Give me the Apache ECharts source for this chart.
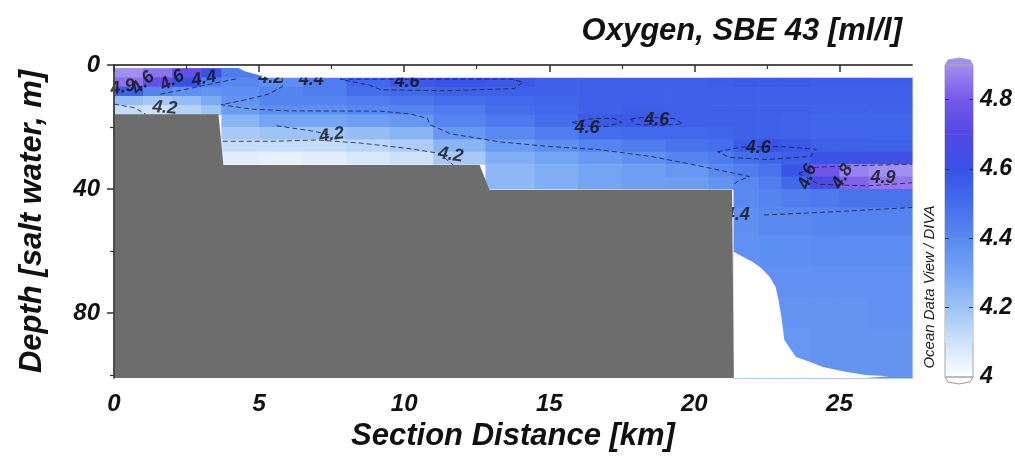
<!DOCTYPE html>
<html>
<head>
<meta charset="utf-8">
<script src="https://cdn.jsdelivr.net/npm/echarts@6/dist/echarts.min.js"></script>
<style>
html, body { margin: 0; padding: 0; background: #fff; }
#chart { width: 1015px; height: 461px; }
</style>
</head>
<body>
<div id="chart"></div>
<script>
var _ = null;
// cell edges of the gridded section (km along section, m depth)
var distEdges = [0, 1, 2, 3, 3.7, 5, 6.5, 8, 9.5, 11, 12.8, 14.5, 16, 17.5, 19, 20.5, 21.35, 22.2, 23, 24, 25, 26, 27.5];
var depthEdges = [1, 4, 7, 10, 13, 16, 20, 24, 28, 32, 36, 40, 46, 55, 65, 75, 85, 101];
// oxygen [ml/l], one row per depth band
var oxygen = [
    [4.9, 4.85, 4.75, 4.6, 4.45, _, _, _, _, _, _, _, _, _, _, _, _, _, _, _, _, _],
    [4.85, 4.75, 4.6, 4.45, 4.4, 4.38, 4.45, 4.52, 4.58, 4.6, 4.58, 4.55, 4.55, 4.55, 4.55, 4.56, 4.57, 4.57, 4.57, 4.56, 4.56, 4.56],
    [4.55, 4.42, 4.38, 4.36, 4.38, 4.42, 4.45, 4.5, 4.52, 4.55, 4.55, 4.55, 4.55, 4.55, 4.55, 4.55, 4.55, 4.55, 4.55, 4.55, 4.55, 4.55],
    [4.22, 4.18, 4.22, 4.28, 4.36, 4.42, 4.42, 4.45, 4.47, 4.5, 4.52, 4.53, 4.55, 4.55, 4.55, 4.55, 4.55, 4.55, 4.55, 4.55, 4.55, 4.55],
    [4.12, 4.1, 4.15, 4.2, 4.33, 4.38, 4.38, 4.4, 4.42, 4.45, 4.5, 4.52, 4.55, 4.56, 4.55, 4.55, 4.55, 4.55, 4.55, 4.54, 4.54, 4.54],
    [_, _, _, _, 4.25, 4.3, 4.3, 4.32, 4.35, 4.42, 4.46, 4.5, 4.58, 4.58, 4.55, 4.55, 4.55, 4.55, 4.54, 4.53, 4.53, 4.53],
    [_, _, _, _, 4.18, 4.2, 4.2, 4.22, 4.25, 4.35, 4.4, 4.45, 4.5, 4.52, 4.52, 4.53, 4.55, 4.55, 4.54, 4.53, 4.53, 4.53],
    [_, _, _, _, 4.12, 4.12, 4.12, 4.14, 4.17, 4.25, 4.33, 4.38, 4.42, 4.45, 4.48, 4.5, 4.57, 4.6, 4.58, 4.55, 4.55, 4.55],
    [_, _, _, _, 4.06, 4.05, 4.06, 4.08, 4.1, 4.18, 4.27, 4.3, 4.34, 4.37, 4.42, 4.45, 4.5, 4.53, 4.56, 4.6, 4.62, 4.63],
    [_, _, _, _, _, _, _, _, _, _, 4.24, 4.27, 4.3, 4.32, 4.35, 4.4, 4.44, 4.48, 4.6, 4.78, 4.88, 4.9],
    [_, _, _, _, _, _, _, _, _, _, 4.24, 4.27, 4.3, 4.32, 4.33, 4.36, 4.4, 4.44, 4.52, 4.68, 4.82, 4.86],
    [_, _, _, _, _, _, _, _, _, _, _, _, _, _, _, _, 4.4, 4.42, 4.44, 4.46, 4.48, 4.48],
    [_, _, _, _, _, _, _, _, _, _, _, _, _, _, _, _, 4.38, 4.4, 4.4, 4.41, 4.42, 4.42],
    [_, _, _, _, _, _, _, _, _, _, _, _, _, _, _, _, 4.37, 4.38, 4.38, 4.39, 4.39, 4.39],
    [_, _, _, _, _, _, _, _, _, _, _, _, _, _, _, _, 4.36, 4.37, 4.37, 4.37, 4.37, 4.37],
    [_, _, _, _, _, _, _, _, _, _, _, _, _, _, _, _, 4.36, 4.36, 4.36, 4.36, 4.36, 4.37],
    [_, _, _, _, _, _, _, _, _, _, _, _, _, _, _, _, 4.35, 4.35, 4.35, 4.36, 4.36, 4.36]
];

// bottom profile, no-data area and surface gap [km, m]
var seabed = [[0, 15.9], [3.6, 15.9], [3.77, 32.3], [12.6, 32.3], [12.94, 40.3], [21.3, 40.3], [21.36, 101]];
var noDataEdge = [[21.35, 60.3], [21.7, 62], [22.0, 63.5], [22.3, 65.5], [22.6, 68.4], [22.8, 71.6], [22.9, 75.8],
    [23.0, 81.3], [23.1, 88.7], [23.5, 94.2], [24.0, 95.8], [24.4, 97.4], [25.2, 99], [25.9, 100], [26.7, 100.4], [26.75, 101]];
var surfaceGap = [[0, 1], [4.3, 1], [4.5, 2], [5.3, 4], [27.5, 4]];

// contour lines [km, m]
var contour42a = [[0, 12.6], [0.7, 13.8], [1.1, 15.9]];
var contour42b = [[3.75, 24.6], [5.5, 24.6], [7.0, 24.2], [8.5, 25.2], [10.2, 27], [11.2, 28.5], [11.7, 32.3]];
var contour42c = [[5.6, 19.6], [6.9, 21.4], [7.4, 22.5]];
var contour44a = [[5.8, 4], [5.8, 7], [5.3, 9.5], [4.4, 11.5], [3.7, 12.8], [4.7, 14.2], [6.0, 14.8], [9.2, 14.9], [10.2, 15.8],
    [10.8, 17.2], [10.9, 19.3], [11.6, 22.2], [13.3, 24.8], [15, 26.3], [16.7, 27.3], [18.5, 29.5], [20.2, 32.6],
    [21.5, 35.2], [21.9, 36], [21.5, 37.5], [21.35, 38.5]];
var contour44b = [[1.6, 9.4], [2.6, 7.6], [3.5, 5.8], [4.2, 4.5]];
var contour44c = [[22.4, 48.4], [24.5, 47.5], [26.5, 46.5], [27.5, 46]];
var contour46a = [[7.8, 4.6], [10, 4.6], [13.7, 4.6], [14.1, 5.5], [13.8, 7.6], [11.5, 8.3], [9.2, 8], [8.8, 6.5], [7.8, 4.6]];
var contour46b = [[15.8, 18.5], [16.5, 17.3], [17.2, 17.2], [17.5, 18.5], [17, 19.8], [16.2, 19.7], [15.8, 18.5]];
var contour46c = [[17.8, 17.5], [18.3, 16.8], [19.3, 17.3], [19.6, 19], [18.8, 19.5], [18, 19.2], [17.8, 17.5]];
var contour46d = [[20.8, 28], [21.6, 26.5], [23.0, 26.3], [24.2, 27.2], [24.0, 29.5], [22.5, 30.5], [21.2, 29.8], [20.8, 28]];
var contour48a = [[23.6, 35], [24.2, 33], [25.5, 32.5], [27.5, 32]];
var contour48b = [[23.6, 35], [24.3, 38.5], [26, 39], [27.5, 38]];
var contourLines = [contour42a, contour42b, contour42c, contour44a, contour44b, contour44c,
    contour46a, contour46b, contour46c, contour46d, contour48a, contour48b];

// contour labels [km, m, text, angle]
var contourLabels = [
    [0.3, 7.2, '4.9', 10], [1.0, 5.8, '4.6', 45], [2.0, 5.0, '4.6', 30], [3.1, 4.4, '4.4', 10],
    [1.75, 13.8, '4.2', -5], [5.4, 4.3, '4.2', 0], [6.8, 4.9, '4.4', 0], [10.1, 5.6, '4.6', 0],
    [7.5, 22.6, '4.2', 8], [11.6, 29, '4.2', -8], [16.3, 20.3, '4.6', 0], [18.7, 17.7, '4.6', 0],
    [22.2, 26.8, '4.6', 0], [23.9, 36, '4.6', 70], [25.1, 36, '4.8', 60], [26.5, 36.5, '4.9', 0],
    [21.48, 48.4, '4.4', 0]
];

var xMajor = [0, 5, 10, 15, 20, 25];
var xMinor = [2.5, 7.5, 12.5, 17.5, 22.5];
var yMajor = [0, 40, 80];
var yMinor = [20, 60, 100];
var colorLevels = [4.0, 4.1, 4.2, 4.3, 4.4, 4.5, 4.6, 4.7, 4.8, 4.9];
var colorTicks = [4, 4.2, 4.4, 4.6, 4.8];
var palette = ['#ffffff', '#cfe2fb', '#9ec3f7', '#74a5f4', '#5889f1', '#456eec', '#3853e6', '#5248e6', '#7559e9', '#a08ef0'];

var FONT = '"Liberation Sans", Arial, sans-serif';
var boldItalic = { fontFamily: FONT, fontWeight: 'bold', fontStyle: 'italic', color: '#111' };

var cells = [];
oxygen.forEach(function (row, r) {
    row.forEach(function (v, c) {
        if (v === null) return;
        cells.push([distEdges[c], distEdges[c + 1], depthEdges[r], depthEdges[r + 1], v]);
    });
});

var barData = [];
for (var i = 0; i < colorLevels.length - 1; i++) {
    barData.push([0, colorLevels[i], colorLevels[i + 1], i]);
}

function renderCell(params, api) {
    var a = api.coord([api.value(0), api.value(2)]);
    var b = api.coord([api.value(1), api.value(3)]);
    return {
        type: 'rect',
        shape: { x: a[0], y: a[1], width: b[0] - a[0] + 0.6, height: b[1] - a[1] + 0.6 },
        style: { fill: api.visual('color') }
    };
}

function renderBar(params, api) {
    var k = api.value(3);
    var lo = api.coord([0, api.value(1)]);
    var hi = api.coord([1, api.value(2)]);
    var children = [{
        type: 'rect',
        shape: { x: lo[0], y: hi[1], width: hi[0] - lo[0], height: lo[1] - hi[1] + 0.5 },
        style: {
            fill: new echarts.graphic.LinearGradient(0, 1, 0, 0, [
                { offset: 0, color: palette[k] }, { offset: 1, color: palette[k + 1] }
            ])
        }
    }];
    var x0 = lo[0], x1 = hi[0], xm = (x0 + x1) / 2;
    if (k === 0) {
        var top = api.coord([1, colorLevels[colorLevels.length - 1]]);
        children.push({
            type: 'polygon',
            shape: { points: [[x0, lo[1]], [x1, lo[1]], [x1 - 3, lo[1] + 5], [xm, lo[1] + 7], [x0 + 3, lo[1] + 5]] },
            style: { fill: palette[0], stroke: '#999', lineWidth: 1 }
        });
        children.push({
            type: 'rect',
            shape: { x: x0, y: top[1], width: x1 - x0, height: lo[1] - top[1] },
            style: { fill: 'none', stroke: '#aaa', lineWidth: 1 }
        });
    }
    if (k === colorLevels.length - 2) {
        children.push({
            type: 'polygon',
            shape: { points: [[x0, hi[1]], [x1, hi[1]], [x1 - 3, hi[1] - 5], [xm, hi[1] - 7], [x0 + 3, hi[1] - 5]] },
            style: { fill: palette[palette.length - 1], stroke: '#aaa', lineWidth: 1 }
        });
    }
    return { type: 'group', children: children };
}

var chartDom = document.getElementById('chart');
var myChart = echarts.init(chartDom);

var frameLine = { lineStyle: { color: '#444', width: 1.5 } };

var series = [{
    type: 'custom',
    xAxisIndex: 0,
    yAxisIndex: 0,
    renderItem: renderCell,
    data: cells,
    encode: { x: [0, 1], y: [2, 3] },
    silent: true,
    z: 1
}];

contourLines.forEach(function (line) {
    series.push({
        type: 'line',
        xAxisIndex: 0,
        yAxisIndex: 0,
        data: line,
        showSymbol: false,
        symbol: 'none',
        silent: true,
        lineStyle: { color: '#1c1c3c', width: 1, type: [5, 3], opacity: 0.8 },
        z: 3
    });
});

series.push({
    type: 'scatter',
    xAxisIndex: 0,
    yAxisIndex: 0,
    symbolSize: 1,
    silent: true,
    itemStyle: { color: 'rgba(0,0,0,0)' },
    data: contourLabels.map(function (d) {
        return { value: [d[0], d[1]], name: d[2], label: { rotate: d[3] } };
    }),
    label: {
        show: true, position: 'inside', formatter: '{b}',
        fontSize: 18, fontFamily: FONT, fontWeight: 'bold', fontStyle: 'italic',
        color: '#111', textBorderWidth: 0
    },
    z: 4
});

series.push({
    type: 'line',
    xAxisIndex: 0,
    yAxisIndex: 0,
    data: surfaceGap,
    symbol: 'none',
    silent: true,
    lineStyle: { width: 0 },
    areaStyle: { color: '#fff', opacity: 1, origin: 'start' },
    z: 6
});

series.push({
    type: 'line',
    xAxisIndex: 0,
    yAxisIndex: 0,
    data: noDataEdge,
    symbol: 'none',
    silent: true,
    lineStyle: { width: 0 },
    areaStyle: { color: '#fff', opacity: 1, origin: 'end' },
    z: 6
});

series.push({
    type: 'line',
    xAxisIndex: 0,
    yAxisIndex: 0,
    data: seabed,
    symbol: 'none',
    silent: true,
    lineStyle: { width: 0 },
    areaStyle: { color: '#6d6d6d', opacity: 1, origin: 'end' },
    z: 7
});

series.push({
    type: 'custom',
    xAxisIndex: 3,
    yAxisIndex: 3,
    renderItem: renderBar,
    data: barData,
    encode: { x: 0, y: [1, 2] },
    silent: true,
    z: 2
});

var option = {
    animation: false,
    backgroundColor: '#fff',
    title: {
        text: 'Oxygen, SBE 43 [ml/l]',
        right: 108,
        top: 11,
        textStyle: { fontFamily: FONT, fontWeight: 'bold', fontStyle: 'italic', fontSize: 31, color: '#111' }
    },
    grid: [
        { left: 114, right: 103, top: 65, bottom: 83 },
        { left: 945, width: 28, top: 65, height: 312 }
    ],
    visualMap: {
        show: false,
        type: 'continuous',
        min: 4.0,
        max: 4.9,
        dimension: 4,
        seriesIndex: 0,
        inRange: { color: palette }
    },
    xAxis: [
        {
            type: 'value', gridIndex: 0, position: 'bottom', min: 0, max: 27.5, interval: 5, z: 10,
            name: 'Section Distance [km]', nameLocation: 'middle', nameGap: 43,
            nameTextStyle: Object.assign({ fontSize: 31 }, boldItalic),
            axisLine: frameLine,
            axisTick: { length: 7, customValues: xMajor, lineStyle: { color: '#333', width: 1.5 } },
            axisLabel: Object.assign({ customValues: xMajor, margin: 14, fontSize: 24 }, boldItalic),
            splitLine: { show: false }
        },
        {
            type: 'value', gridIndex: 0, position: 'top', min: 0, max: 27.5, z: 10,
            axisLine: frameLine, axisTick: { show: false }, axisLabel: { show: false }, splitLine: { show: false }
        },
        {
            type: 'value', gridIndex: 0, position: 'bottom', min: 0, max: 27.5, z: 10,
            axisLine: { show: false },
            axisTick: { length: 4, customValues: xMinor, lineStyle: { color: '#333', width: 1.2 } },
            axisLabel: { show: false }, splitLine: { show: false }
        },
        { type: 'value', gridIndex: 1, min: 0, max: 1, show: false }
    ],
    yAxis: [
        {
            type: 'value', gridIndex: 0, position: 'left', inverse: true, min: 0, max: 101, interval: 40, z: 10,
            name: 'Depth [salt water, m]', nameLocation: 'middle', nameGap: 66,
            nameTextStyle: Object.assign({ fontSize: 31 }, boldItalic),
            axisLine: frameLine,
            axisTick: { length: 7, customValues: yMajor, lineStyle: { color: '#333', width: 1.5 } },
            axisLabel: Object.assign({ customValues: yMajor, margin: 14, fontSize: 24 }, boldItalic),
            splitLine: { show: false }
        },
        {
            type: 'value', gridIndex: 0, position: 'right', inverse: true, min: 0, max: 101, z: 10,
            axisLine: frameLine, axisTick: { show: false }, axisLabel: { show: false }, splitLine: { show: false }
        },
        {
            type: 'value', gridIndex: 0, position: 'left', inverse: true, min: 0, max: 101, z: 10,
            axisLine: { show: false },
            axisTick: { length: 4, customValues: yMinor, lineStyle: { color: '#333', width: 1.2 } },
            axisLabel: { show: false }, splitLine: { show: false }
        },
        {
            type: 'value', gridIndex: 1, position: 'right', min: 4.0, max: 4.9, interval: 0.2, z: 5,
            axisLine: { show: false },
            axisTick: { show: false },
            axisLabel: Object.assign({ customValues: colorTicks, margin: 7, fontSize: 23 }, boldItalic),
            splitLine: { show: true, showMinLine: false, showMaxLine: false, lineStyle: { color: '#333', width: 1.2, type: [4, 20] } }
        }
    ],
    graphic: [{
        type: 'text',
        x: 930,
        y: 287,
        rotation: Math.PI / 2,
        style: {
            text: 'Ocean Data View / DIVA',
            font: 'italic 15px "Liberation Sans", Arial, sans-serif',
            fill: '#222',
            align: 'center',
            verticalAlign: 'middle'
        }
    }],
    series: series
};

option && myChart.setOption(option);
</script>
</body>
</html>
